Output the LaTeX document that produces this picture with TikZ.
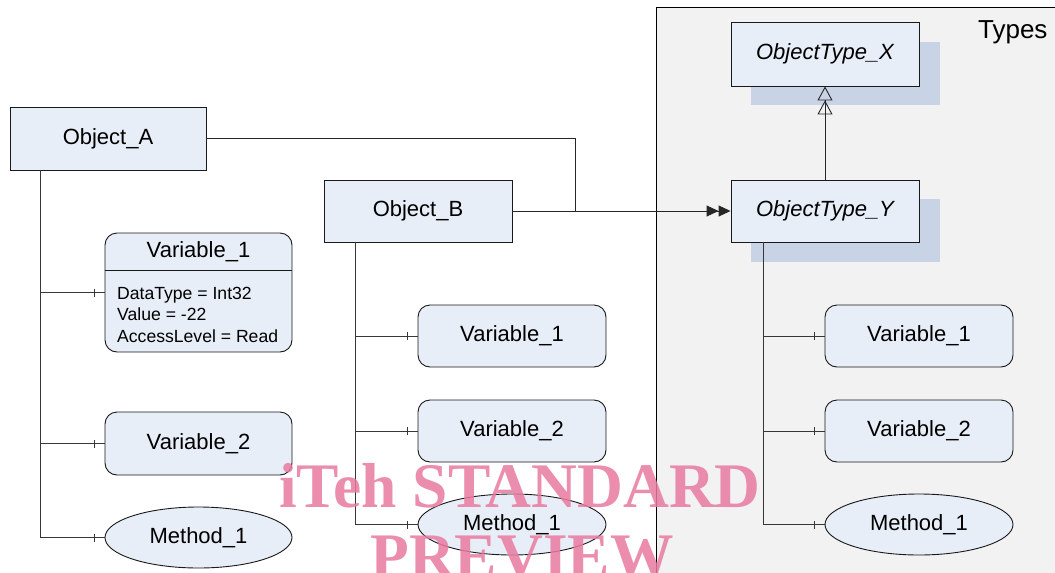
\documentclass[tikz,border=0pt]{standalone}
\usepackage{fontspec}
\setmainfont{Liberation Sans}
\newfontfamily\wmfont{Liberation Serif}
\usetikzlibrary{shapes.geometric,arrows.meta,decorations.markings}

\definecolor{boxfill}{RGB}{232,238,247}
\definecolor{shadowfill}{RGB}{200,211,229}
\definecolor{framefill}{RGB}{242,242,242}
\definecolor{linegray}{RGB}{55,55,55}
\definecolor{wmpink}{RGB}{232,122,160}

\tikzset{
  objbox/.style={draw=black!90, fill=boxfill, line width=0.9pt,
    minimum width=188pt, minimum height=62pt, inner sep=0pt,
    font=\fontsize{22}{26}\selectfont},
  varbox/.style={objbox, rounded corners=12pt},
  methbox/.style={objbox, ellipse, minimum height=61pt},
  typebox/.style={objbox, font=\fontsize{22}{26}\selectfont\itshape},
  conn/.style={draw=black!85, line width=0.9pt},
  branch/.style={draw=linegray, line width=0.9pt, postaction={decorate},
    decoration={markings, mark=at position -10pt with
      {\draw[linegray, line width=0.9pt] (0,-4pt) -- (0,4pt);}}},
  attr/.style={anchor=base west, inner sep=0pt, font=\fontsize{17.6}{21}\selectfont},
  wmtext/.style={anchor=base, inner sep=0pt, text=wmpink, opacity=0.85,
    font=\wmfont\bfseries\fontsize{63.5}{70}\selectfont},
}

\begin{document}
\begin{tikzpicture}[x=1pt, y=-1pt]
\useasboundingbox (0,0) rectangle (1055,573);

% frame of the type definitions
\fill[framefill] (656,7) rectangle (1055,573);
\draw[line width=1pt] (656,573) -- (656,7) -- (1055,7);
\node[font=\fontsize{26}{30}\selectfont, anchor=east] (types) at (1051,32) {Types};

% shadows behind the type boxes
\fill[shadowfill] (751,42) rectangle (940,105);
\fill[shadowfill] (751,199) rectangle (940,262);

% objects and types
\node[objbox, minimum width=196pt, minimum height=63pt] (oa) at (108,138.5) {Object\_A};
\node[objbox] (ob) at (418,211) {Object\_B};
\node[typebox, minimum height=64pt] (ox) at (825,54) {ObjectType\_X};
\node[typebox] (oy) at (825,211) {ObjectType\_Y};

% members of Object_A
\node[varbox, minimum width=187pt, minimum height=119pt] (av1) at (198.5,292.5) {};
\coordinate (hdr) at (0,270);
\draw[line width=0.9pt, black!90] (av1.west |- hdr) -- (av1.east |- hdr);
\node[font=\fontsize{22}{26}\selectfont] (av1t) at (198.5,252) {Variable\_1};
\node[attr] (av1a) at (117,299) {DataType = Int32};
\node[attr] (av1b) at (117,320) {Value = -22};
\node[attr] (av1c) at (117,342) {AccessLevel = Read};
\node[varbox, minimum width=187pt, minimum height=63pt] (av2) at (198.5,443.5) {Variable\_2};
\node[methbox, minimum width=187pt] (am) at (198.5,537.5) {Method\_1};

% members of Object_B
\node[varbox] (bv1) at (512,336) {Variable\_1};
\node[varbox] (bv2) at (512,431) {Variable\_2};
\node[methbox] (bm) at (512,524.5) {Method\_1};

% members of ObjectType_Y
\node[varbox] (tv1) at (919,336) {Variable\_1};
\node[varbox] (tv2) at (919,431) {Variable\_2};
\node[methbox] (tm) at (919,524.5) {Method\_1};

% trunks of the member trees
\coordinate (ta) at (40,170);
\coordinate (tb) at (355,242);
\coordinate (ty) at (763,242);

\draw[branch] (ta) |- (av1.west);
\draw[branch] (ta) |- (av2.west);
\draw[branch] (ta) |- (am.west);
\draw[branch] (tb) |- (bv1.west);
\draw[branch] (tb) |- (bv2.west);
\draw[branch] (tb) |- (bm.west);
\draw[branch] (ty) |- (tv1.west);
\draw[branch] (ty) |- (tv2.west);
\draw[branch] (ty) |- (tm.west);

% type definitions
\coordinate (j) at (575,211);
\draw[conn] (oa.east) -| (j);
\draw[conn, -{Triangle[length=12pt,width=11pt]Triangle[length=12pt,width=11pt]}]
  (ob.east) -- (oy.west);

% subtype relation
\draw[conn, -{Triangle[open,length=14pt,width=15pt]Triangle[open,length=14pt,width=15pt]}]
  (oy.north) -- (ox.south);

% watermark
\node[wmtext] (wm1) at (520,507) {iTeh STANDARD};
\node[wmtext] (wm2) at (522,577) {PREVIEW};
\end{tikzpicture}
\end{document}
